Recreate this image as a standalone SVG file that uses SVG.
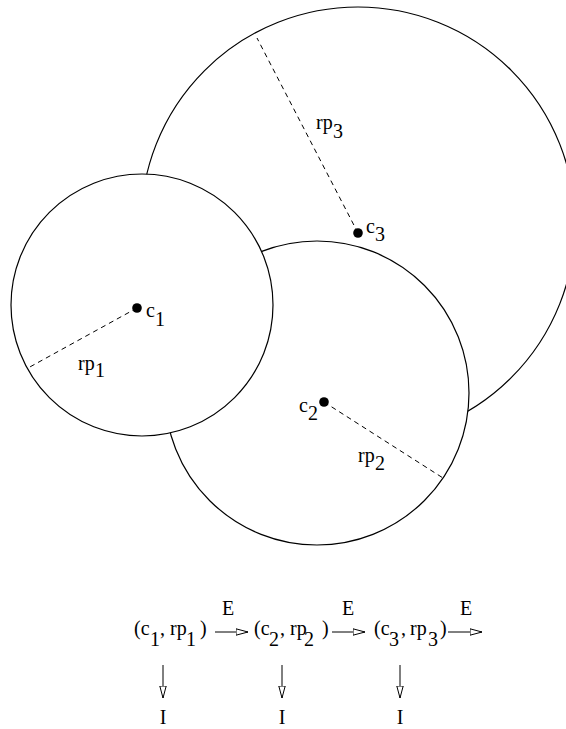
<svg xmlns="http://www.w3.org/2000/svg" width="566" height="729" viewBox="0 0 566 729">
<style>
  .circ { stroke: #000; stroke-width: 1.2; fill: #fff; }
  .dash { stroke: #000; stroke-width: 1; stroke-dasharray: 5 4; fill: none; }
  .dot { fill: #000; }
  .t { font-family: "Liberation Serif", "Times New Roman", serif; font-size: 20px; fill: #000; }
  .conn { stroke: #000; stroke-width: 1; fill: none; }
</style>
<defs>
  <marker id="hollow" viewBox="0 0 13 8" refX="12.5" refY="4" markerWidth="13" markerHeight="8" markerUnits="userSpaceOnUse" orient="auto">
    <path d="M0.5,0.8 L12.5,4 L0.5,7.2 Z" fill="#fff" stroke="#000" stroke-width="1"/>
  </marker>
</defs>
<rect width="566" height="729" fill="#fff"/>

<g id="circle3">
  <circle class="circ" cx="358" cy="224" r="217"/>
  <line class="dash" x1="358" y1="233" x2="257" y2="38"/>
  <circle class="dot" cx="358" cy="233" r="4.8"/>
  <text class="t"><tspan x="366" y="233">c</tspan><tspan x="375" y="241">3</tspan></text>
  <text class="t"><tspan x="316" y="129">rp</tspan><tspan x="333" y="138">3</tspan></text>
</g>

<g id="circle2">
  <circle class="circ" cx="317" cy="393" r="152"/>
  <line class="dash" x1="324" y1="402" x2="443" y2="478"/>
  <circle class="dot" cx="324" cy="402" r="4.8"/>
  <text class="t"><tspan x="299" y="412">c</tspan><tspan x="308" y="420">2</tspan></text>
  <text class="t"><tspan x="358" y="462">rp</tspan><tspan x="375" y="470">2</tspan></text>
</g>

<g id="circle1">
  <circle class="circ" cx="142" cy="305" r="131"/>
  <line class="dash" x1="137" y1="308" x2="28" y2="368"/>
  <circle class="dot" cx="137" cy="308" r="4.8"/>
  <text class="t"><tspan x="146" y="317">c</tspan><tspan x="155" y="326">1</tspan></text>
  <text class="t"><tspan x="78" y="370">rp</tspan><tspan x="95" y="377">1</tspan></text>
</g>

<g id="tuple1">
  <text class="t"><tspan x="134" y="635">(c</tspan><tspan x="150" y="646">1</tspan><tspan x="160" y="635">, rp</tspan><tspan x="186" y="646">1</tspan><tspan x="200" y="635">)</tspan></text>
</g>
<g id="tuple2">
  <text class="t"><tspan x="254" y="635">(c</tspan><tspan x="269" y="646">2</tspan><tspan x="280" y="635">, rp</tspan><tspan x="304" y="646">2</tspan><tspan x="322" y="635">)</tspan></text>
</g>
<g id="tuple3">
  <text class="t"><tspan x="374" y="635">(c</tspan><tspan x="389" y="646">3</tspan><tspan x="401" y="635">,</tspan><tspan x="410" y="635">rp</tspan><tspan x="428" y="646">3</tspan><tspan x="440" y="635">)</tspan></text>
</g>

<g id="I1"><text class="t" x="163" y="724" text-anchor="middle">I</text></g>
<g id="I2"><text class="t" x="282" y="724" text-anchor="middle">I</text></g>
<g id="I3"><text class="t" x="400" y="724" text-anchor="middle">I</text></g>

<g id="connectors">
  <line class="conn" x1="215" y1="632" x2="248" y2="632" marker-end="url(#hollow)"/>
  <text class="t" x="228" y="615" text-anchor="middle">E</text>
  <line class="conn" x1="332" y1="632" x2="365" y2="632" marker-end="url(#hollow)"/>
  <text class="t" x="348" y="615" text-anchor="middle">E</text>
  <line class="conn" x1="448" y1="632" x2="482" y2="632" marker-end="url(#hollow)"/>
  <text class="t" x="466" y="615" text-anchor="middle">E</text>
  <line class="conn" x1="163" y1="665" x2="163" y2="698" marker-end="url(#hollow)"/>
  <line class="conn" x1="282" y1="665" x2="282" y2="698" marker-end="url(#hollow)"/>
  <line class="conn" x1="400" y1="665" x2="400" y2="698" marker-end="url(#hollow)"/>
</g>
</svg>
